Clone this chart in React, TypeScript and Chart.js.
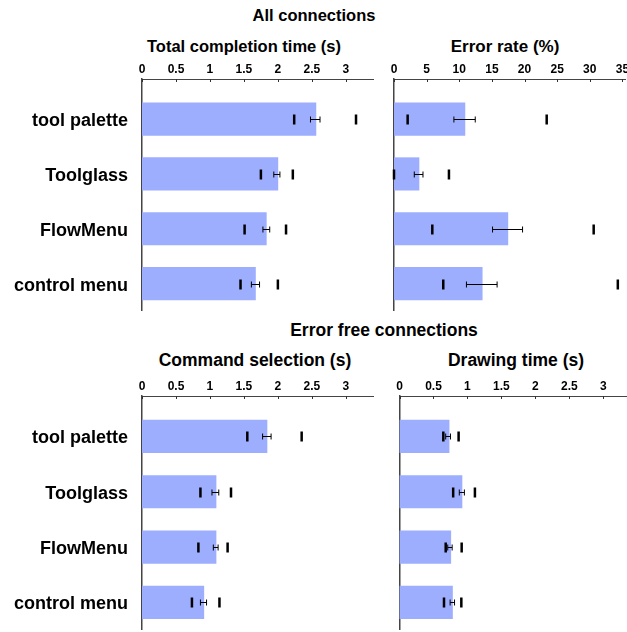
import React, { useEffect, useRef } from "react";
import { Chart, registerables } from "chart.js";
Chart.register(...registerables);

const categories = ["tool palette", "Toolglass", "FlowMenu", "control menu"];

const totalTime = [2.56, 2.0, 1.83, 1.67];
const totalTimeErrLow = [2.48, 1.94, 1.78, 1.61];
const totalTimeErrHigh = [2.62, 2.03, 1.88, 1.73];
const totalTimeMin = [2.24, 1.75, 1.51, 1.45];
const totalTimeMax = [3.15, 2.22, 2.12, 2.0];

const errorRate = [10.87, 3.83, 17.45, 13.52];
const errorRateErrLow = [9.18, 3.11, 15.1, 11.1];
const errorRateErrHigh = [12.45, 4.44, 19.7, 15.8];
const errorRateMin = [2.09, 0, 5.87, 7.55];
const errorRateMax = [23.4, 8.42, 30.6, 34.3];

const cmdSel = [1.84, 1.09, 1.09, 0.91];
const cmdSelErrLow = [1.775, 1.03, 1.05, 0.86];
const cmdSelErrHigh = [1.9, 1.13, 1.12, 0.95];
const cmdSelMin = [1.55, 0.86, 0.83, 0.735];
const cmdSelMax = [2.35, 1.31, 1.26, 1.14];

const drawTime = [0.73, 0.92, 0.755, 0.78];
const drawTimeErrLow = [0.68, 0.88, 0.71, 0.745];
const drawTimeErrHigh = [0.75, 0.955, 0.775, 0.81];
const drawTimeMin = [0.645, 0.79, 0.68, 0.655];
const drawTimeMax = [0.87, 1.11, 0.915, 0.91];

const timeTicks = [0, 0.5, 1, 1.5, 2, 2.5, 3];
const rateTicks = [0, 5, 10, 15, 20, 25, 30, 35];

const FONT = "'Liberation Sans', Arial, Helvetica, sans-serif";
const BAR = "rgb(158,174,255)";

type PanelProps = {
  values: number[];
  errLow: number[];
  errHigh: number[];
  mins: number[];
  maxs: number[];
  ticks: number[];
  xMax: number;
  showLabels: boolean;
  yWidth: number;
  left: number;
  top: number;
  width: number;
  height: number;
  padRight: number;
  padBottom: number;
};

function Panel(p: PanelProps) {
  const ref = useRef<HTMLCanvasElement | null>(null);
  useEffect(() => {
    if (!ref.current) return;
    const markers = {
      id: "markers",
      afterDatasetsDraw(chart: any) {
        const { ctx, chartArea } = chart;
        const x = chart.scales.x;
        const y = chart.scales.y;
        ctx.save();
        ctx.strokeStyle = "#333";
        ctx.lineWidth = 1;
        for (const t of p.ticks) {
          const px = Math.round(x.getPixelForValue(t)) + 0.5;
          ctx.beginPath();
          ctx.moveTo(px, chartArea.top);
          ctx.lineTo(px, chartArea.top + 3);
          ctx.stroke();
        }
        ctx.strokeStyle = "#000";
        ctx.fillStyle = "#000";
        for (let i = 0; i < p.values.length; i++) {
          const cy = Math.round(y.getPixelForValue(i)) + 0.5;
          const x1 = x.getPixelForValue(p.errLow[i]);
          const x2 = x.getPixelForValue(p.errHigh[i]);
          ctx.beginPath();
          ctx.moveTo(x1, cy);
          ctx.lineTo(x2, cy);
          ctx.moveTo(x1, cy - 3);
          ctx.lineTo(x1, cy + 3);
          ctx.moveTo(x2, cy - 3);
          ctx.lineTo(x2, cy + 3);
          ctx.stroke();
          for (const m of [p.mins[i], p.maxs[i]]) {
            const mx = x.getPixelForValue(m);
            ctx.fillRect(mx - 1.25, cy - 5, 2.5, 10);
          }
        }
        ctx.restore();
      },
    };
    const chart = new Chart(ref.current, {
      type: "bar",
      data: {
        datasets: [
          {
            data: p.values.map((v, i) => ({ x: v, y: i })) as any,
            backgroundColor: BAR,
            borderWidth: 0,
            barThickness: 32.5,
          },
        ],
      },
      options: {
        indexAxis: "y",
        animation: false,
        responsive: false,
        maintainAspectRatio: false,
        layout: { padding: { left: 0, top: 0, right: p.padRight, bottom: p.padBottom } },
        plugins: {
          legend: { display: false },
          tooltip: { enabled: false },
        },
        scales: {
          x: {
            type: "linear",
            position: "top",
            min: 0,
            max: p.xMax,
            offset: false,
            grid: { display: false, drawTicks: false },
            border: { display: true, color: "#444", width: 1 },
            ticks: {
              font: { family: FONT, size: 12, weight: "bold" },
              color: "#000",
              padding: 2,
              maxRotation: 0,
              autoSkip: false,
              callback: (v: any) => String(v),
            },
            afterBuildTicks: (s: any) => {
              s.ticks = p.ticks.map((v) => ({ value: v }));
            },
            afterFit: (s: any) => {
              s.height = 24;
              s.paddingLeft = 0;
              s.paddingRight = 0;
            },
          },
          y: {
            type: "linear",
            reverse: true,
            min: -0.73,
            max: 3.48,
            offset: false,
            grace: 0,
            grid: { display: false, drawTicks: false, offset: false },
            border: { display: true, color: "#444", width: 1.5 },
            ticks: {
              display: p.showLabels,
              font: { family: FONT, size: 18, weight: "bold" },
              color: "#000",
              padding: 14,
              labelOffset: 2,
              autoSkip: false,
              callback: (v: any) => categories[v] ?? "",
            },
            afterBuildTicks: (s: any) => {
              s.ticks = categories.map((_, i) => ({ value: i }));
            },
            afterFit: (s: any) => {
              s.width = p.yWidth;
              s.paddingTop = 0;
              s.paddingBottom = 0;
            },
          },
        },
      } as any,
      plugins: [markers],
    });
    return () => chart.destroy();
  }, []);
  return (
    <canvas
      ref={ref}
      width={p.width}
      height={p.height}
      style={{ position: "absolute", left: p.left, top: p.top, width: p.width, height: p.height }}
    />
  );
}

const textStyle = (x: number, y: number, size: number): React.CSSProperties => ({
  position: "absolute",
  left: x,
  top: y,
  transform: "translate(-50%, -50%)",
  fontFamily: FONT,
  fontWeight: "bold",
  fontSize: size,
  lineHeight: 1,
  whiteSpace: "nowrap",
  color: "#000",
});

export default function App() {
  return (
    <div
      style={{
        position: "fixed",
        left: 0,
        top: 0,
        width: 627,
        height: 632,
        overflow: "hidden",
        background: "#fff",
      }}
    >
      <div style={textStyle(314, 15, 16.5)}>All connections</div>
      <div style={textStyle(244, 46, 16.5)}>Total completion time (s)</div>
      <div style={textStyle(505, 46, 17)}>Error rate (%)</div>
      <div style={textStyle(384, 331, 17.5)}>Error free connections</div>
      <div style={textStyle(255, 361, 17.5)}>Command selection (s)</div>
      <div style={textStyle(516, 361, 17.5)}>Drawing time (s)</div>

      <Panel
        values={totalTime}
        errLow={totalTimeErrLow}
        errHigh={totalTimeErrHigh}
        mins={totalTimeMin}
        maxs={totalTimeMax}
        ticks={timeTicks}
        xMax={3.4}
        showLabels={true}
        yWidth={142}
        left={0}
        top={55}
        width={390}
        height={265}
        padRight={17}
        padBottom={10}
      />
      <Panel
        values={errorRate}
        errLow={errorRateErrLow}
        errHigh={errorRateErrHigh}
        mins={errorRateMin}
        maxs={errorRateMax}
        ticks={rateTicks}
        xMax={35.4}
        showLabels={false}
        yWidth={10}
        left={384}
        top={55}
        width={256}
        height={265}
        padRight={15}
        padBottom={10}
      />
      <Panel
        values={cmdSel}
        errLow={cmdSelErrLow}
        errHigh={cmdSelErrHigh}
        mins={cmdSelMin}
        maxs={cmdSelMax}
        ticks={timeTicks}
        xMax={3.4}
        showLabels={true}
        yWidth={142}
        left={0}
        top={372}
        width={390}
        height={265}
        padRight={17}
        padBottom={8}
      />
      <Panel
        values={drawTime}
        errLow={drawTimeErrLow}
        errHigh={drawTimeErrHigh}
        mins={drawTimeMin}
        maxs={drawTimeMax}
        ticks={timeTicks}
        xMax={3.4}
        showLabels={false}
        yWidth={10.5}
        left={389}
        top={372}
        width={251}
        height={265}
        padRight={9.5}
        padBottom={8}
      />
    </div>
  );
}
